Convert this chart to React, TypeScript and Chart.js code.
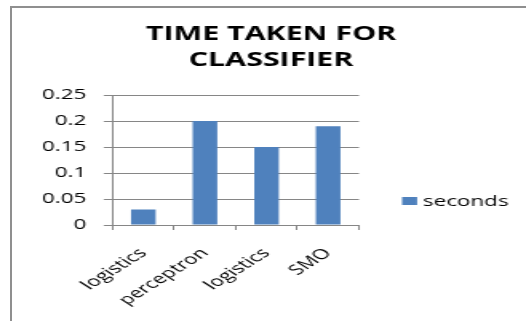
import React, { useEffect, useRef } from "react";
import { Chart, registerables } from "chart.js";

Chart.register(...registerables);

// ---- data ----
const categories = ["logistics", "perceptron", "logistics", "SMO"];
const seconds = [0.03, 0.2, 0.15, 0.19];
const seriesLabel = "seconds";
const titleLines = ["TIME TAKEN FOR", "CLASSIFIER"];
const yMin = 0;
const yMax = 0.25;
const yStep = 0.05;

// ---- layout / style ----
const W = 526;
const H = 321;
const LW = 329; // logical canvas width, stretched horizontally to W
const SCALE_X = W / LW;
const FONT = "'Open Sans', sans-serif";
const BAR = "#4F81BD";
const GRID = "#868686";
const TEXT = "#000000";

const PLOT_LEFT = 70.4;
const PLOT_RIGHT = 224.5;
const PLOT_TOP = 95;
const PLOT_BOTTOM = 225;

const decorPlugin = {
  id: "decor",
  afterDraw(chart: any) {
    const ctx = chart.ctx as CanvasRenderingContext2D;
    ctx.save();
    // title
    ctx.fillStyle = TEXT;
    ctx.font = `bold 19px ${FONT}`;
    ctx.textAlign = "center";
    ctx.textBaseline = "alphabetic";
    ctx.fillText(titleLines[0], 169.5, 40);
    ctx.fillText(titleLines[1], 169.5, 66);
    // legend
    const ds = chart.data.datasets[0];
    ctx.fillStyle = ds.backgroundColor;
    ctx.fillRect(251.5, 197, 9.4, 8);
    ctx.fillStyle = TEXT;
    ctx.font = `14px ${FONT}`;
    ctx.textAlign = "left";
    ctx.fillText(ds.label, 264.6, 206);
    ctx.restore();
  },
};

export default function App() {
  const ref = useRef<HTMLCanvasElement | null>(null);

  useEffect(() => {
    if (!ref.current) return;
    const chart = new Chart(ref.current, {
      type: "bar",
      data: {
        labels: categories,
        datasets: [
          {
            label: seriesLabel,
            data: seconds,
            backgroundColor: BAR,
            borderWidth: 0,
            categoryPercentage: 1,
            barPercentage: 0.4,
          },
        ],
      },
      options: {
        responsive: false,
        animation: false,
        devicePixelRatio: 1,
        layout: {
          padding: { top: PLOT_TOP, right: LW - PLOT_RIGHT, bottom: 0, left: 0 },
        },
        plugins: {
          legend: { display: false },
          title: { display: false },
          tooltip: { enabled: false },
        },
        scales: {
          x: {
            offset: true,
            grid: {
              offset: true,
              drawOnChartArea: false,
              drawTicks: true,
              tickLength: 5,
              color: GRID,
            },
            border: { color: GRID, width: 1 },
            ticks: {
              minRotation: 45,
              maxRotation: 45,
              color: TEXT,
              padding: 15,
              font: { family: FONT, size: 14 },
            },
            afterFit(scale: any) {
              scale.height = H - PLOT_BOTTOM;
            },
          },
          y: {
            min: yMin,
            max: yMax,
            ticks: {
              stepSize: yStep,
              color: TEXT,
              padding: 11,
              font: { family: FONT, size: 14 },
              callback: (v: any) => String(Number(Number(v).toFixed(2))),
            },
            grid: { color: GRID, tickLength: 5.5, drawTicks: true },
            border: { color: GRID, width: 1 },
            afterFit(scale: any) {
              scale.width = PLOT_LEFT;
            },
          },
        },
      },
      plugins: [decorPlugin],
    });
    return () => chart.destroy();
  }, []);

  return (
    <div
      style={{
        position: "absolute",
        left: 0,
        top: 0,
        width: W,
        height: H,
        overflow: "hidden",
        background: "#ffffff",
      }}
    >
      <div
        style={{
          position: "absolute",
          left: 0,
          top: 0,
          width: LW,
          height: H,
          transform: `scaleX(${SCALE_X})`,
          transformOrigin: "0 0",
        }}
      >
        <canvas ref={ref} width={LW} height={H} style={{ width: LW, height: H, display: "block" }} />
      </div>
      <div
        style={{
          position: "absolute",
          left: 10,
          top: 6,
          right: 0,
          bottom: 0,
          borderTop: "2px solid #8f8f8f",
          borderLeft: "2px solid #8f8f8f",
          pointerEvents: "none",
        }}
      />
    </div>
  );
}
